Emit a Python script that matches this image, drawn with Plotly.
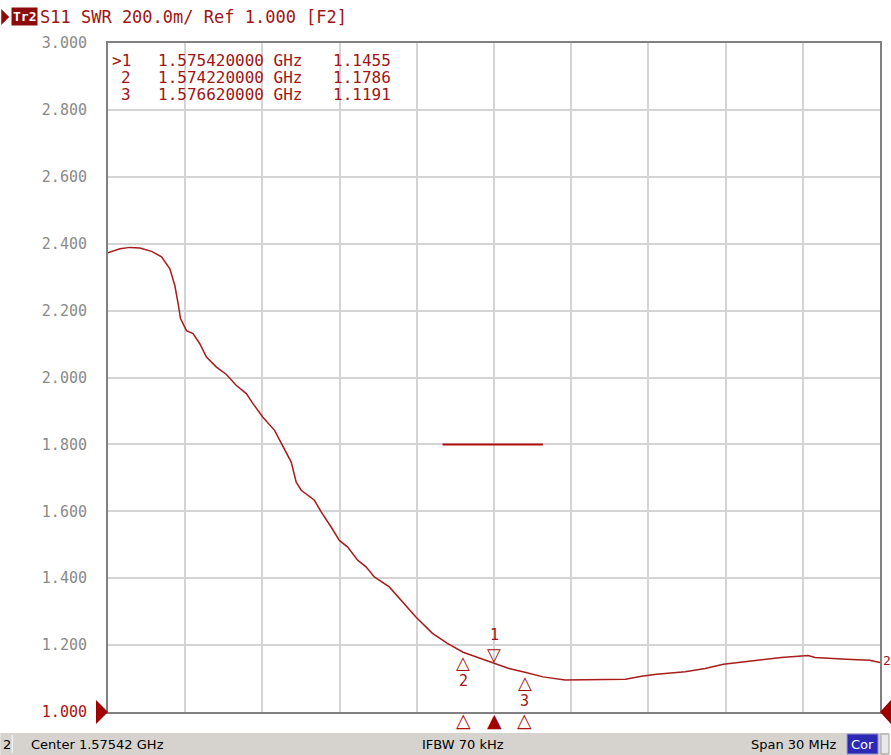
import plotly.graph_objects as go

# ---------------- data ----------------
freq_mhz = [1560.42, 1560.885, 1561.273, 1561.660, 1562.114, 1562.501, 1562.823, 1563.017,
            1563.145, 1563.238, 1563.470, 1563.726, 1563.986, 1564.246, 1564.633, 1565.021,
            1565.408, 1565.796, 1566.052, 1566.439, 1566.893, 1567.214, 1567.540, 1567.734,
            1567.928, 1568.443, 1568.703, 1569.090, 1569.412, 1569.734, 1570.121, 1570.447,
            1570.769, 1571.350, 1572.385, 1573.028, 1573.610, 1574.220, 1574.839, 1575.420,
            1576.001, 1576.620, 1577.329, 1578.178, 1579.470, 1580.525, 1581.157, 1581.738,
            1582.850, 1583.626, 1584.335, 1584.916, 1585.951, 1586.583, 1587.629, 1587.889,
            1589.113, 1590.020, 1590.42]
swr = [2.373, 2.385, 2.389, 2.387, 2.377, 2.361, 2.325, 2.275,
       2.221, 2.176, 2.140, 2.131, 2.101, 2.061, 2.031, 2.009,
       1.976, 1.952, 1.922, 1.881, 1.842, 1.797, 1.747, 1.687,
       1.663, 1.633, 1.598, 1.553, 1.513, 1.493, 1.454, 1.434,
       1.404, 1.374, 1.284, 1.235, 1.205, 1.1786, 1.162, 1.1455,
       1.130, 1.1191, 1.105, 1.096, 1.096, 1.098, 1.107, 1.113,
       1.120, 1.130, 1.143, 1.148, 1.157, 1.163, 1.169, 1.163,
       1.158, 1.155, 1.148]

marker_ids = ["1", "2", "3"]
marker_freq_ghz = [1.575420000, 1.574220000, 1.576620000]
marker_val = [1.1455, 1.1786, 1.1191]

limit_freq = [1573.42, 1577.32]
limit_val = [1.8, 1.8]

y_ticks = [1.0, 1.2, 1.4, 1.6, 1.8, 2.0, 2.2, 2.4, 2.6, 2.8, 3.0]
x_start, x_stop = 1560.42, 1590.42
header = "S11 SWR 200.0m/ Ref 1.000 [F2]"
status_left = "Center 1.57542 GHz"
status_mid = "IFBW 70 kHz"
status_right = "Span 30 MHz"

# ---------------- style ----------------
W, H = 891, 755
L, R, T, B = 108, 9, 43, 43
PW, PH = W - L - R, H - T - B
RED = "#a81c1c"
TXT = "#a01414"
GRID = "#d4d4d4"
FRAME = "#808080"
MONO = "DejaVu Sans Mono"


def px(x):
    return (x - L) / PW


def py(y):
    return (H - B - y) / PH


fig = go.Figure()

fig.add_trace(go.Scatter(x=freq_mhz, y=swr, mode="lines",
                         line=dict(color=RED, width=1.5), hoverinfo="skip"))
fig.add_trace(go.Scatter(x=limit_freq, y=limit_val, mode="lines",
                         line=dict(color="#b01010", width=2), hoverinfo="skip"))

mk_mhz = [f * 1000 for f in marker_freq_ghz]

annotations = []
# marker position triangles under the axis
for i in range(3):
    annotations.append(dict(x=mk_mhz[i], y=py(720), xref="x", yref="paper",
                            text="▲" if i == 0 else "△", showarrow=False,
                            xanchor="center", yanchor="middle",
                            font=dict(family="DejaVu Sans", size=19,
                                      color="#a00000" if i == 0 else "#b01010")))
# marker flags on trace
GLY = dict(family="DejaVu Sans", size=18, color=TXT)
NUM = dict(family=MONO, size=15, color=TXT)
annotations.append(dict(x=mk_mhz[0], y=marker_val[0], xref="x", yref="y", text="▽",
                        showarrow=False, yanchor="middle", xanchor="center",
                        font=GLY, yshift=9))
annotations.append(dict(x=mk_mhz[0], y=marker_val[0], xref="x", yref="y", text=marker_ids[0],
                        showarrow=False, yanchor="middle", xanchor="center",
                        font=NUM, yshift=28))
for i in (1, 2):
    annotations.append(dict(x=mk_mhz[i], y=marker_val[i], xref="x", yref="y", text="△",
                            showarrow=False, yanchor="middle", xanchor="center",
                            font=GLY, yshift=-10))
    annotations.append(dict(x=mk_mhz[i], y=marker_val[i], xref="x", yref="y",
                            text=marker_ids[i], showarrow=False, yanchor="middle",
                            xanchor="center", font=NUM, yshift=-29))

# marker table
for i, (mid, f, v) in enumerate(zip(marker_ids, marker_freq_ghz, marker_val)):
    yy = 60 + 17 * i
    lab = (">" if i == 0 else "") + mid
    annotations.append(dict(x=px(133), y=py(yy), xref="paper", yref="paper", text=lab,
                            showarrow=False, xanchor="right", yanchor="middle",
                            font=dict(family=MONO, size=16, color=TXT)))
    annotations.append(dict(x=px(156), y=py(yy), xref="paper", yref="paper",
                            text=f"{f:.9f} GHz", showarrow=False, xanchor="left", yanchor="middle",
                            font=dict(family=MONO, size=16, color=TXT)))
    annotations.append(dict(x=px(394), y=py(yy), xref="paper", yref="paper",
                            text=f"{v:.4f}", showarrow=False, xanchor="right", yanchor="middle",
                            font=dict(family=MONO, size=16, color=TXT)))

# header
annotations.append(dict(x=px(11), y=py(17), xref="paper", yref="paper", text="<b>Tr2</b>",
                        showarrow=False, xanchor="left", yanchor="middle", bgcolor="#8c0c0c",
                        borderpad=1, font=dict(family=MONO, size=13, color="white")))
annotations.append(dict(x=px(38), y=py(17), xref="paper", yref="paper", text=header,
                        showarrow=False, xanchor="left", yanchor="middle",
                        font=dict(family=MONO, size=17, color=TXT)))
# trace end label
annotations.append(dict(x=px(883), y=py(660), xref="paper", yref="paper", text="2",
                        showarrow=False, xanchor="left", yanchor="middle",
                        font=dict(family=MONO, size=13, color=TXT)))
# status bar texts
SB = dict(family="DejaVu Sans", size=13, color="black")
annotations.append(dict(x=px(1), y=py(744), xref="paper", yref="paper", text="2",
                        showarrow=False, xanchor="left", yanchor="middle", font=SB))
annotations.append(dict(x=px(29), y=py(744), xref="paper", yref="paper", text=status_left,
                        showarrow=False, xanchor="left", yanchor="middle", font=SB))
annotations.append(dict(x=px(464), y=py(744), xref="paper", yref="paper", text=status_mid,
                        showarrow=False, xanchor="center", yanchor="middle", font=SB))
annotations.append(dict(x=px(841), y=py(744), xref="paper", yref="paper", text=status_right,
                        showarrow=False, xanchor="right", yanchor="middle", font=SB))
annotations.append(dict(x=px(864), y=py(744), xref="paper", yref="paper", text="Cor",
                        showarrow=False, xanchor="center", yanchor="middle",
                        font=dict(family="DejaVu Sans", size=13, color="white")))

shapes = [
    # status bar
    dict(type="rect", xref="paper", yref="paper", x0=px(0), x1=px(W), y0=py(755), y1=py(733),
         fillcolor="#d6d3ce", line=dict(width=0), layer="below"),
    dict(type="line", xref="paper", yref="paper", x0=px(12), x1=px(12), y0=py(753), y1=py(735),
         line=dict(color="white", width=1)),
    dict(type="rect", xref="paper", yref="paper", x0=px(849), x1=px(880), y0=py(754), y1=py(734),
         fillcolor="#2a2ab4", line=dict(color="#9090d0", width=1)),
    dict(type="rect", xref="paper", yref="paper", x0=px(883), x1=px(891), y0=py(754), y1=py(734),
         fillcolor="#e8e8e8", line=dict(color="#a0a0a0", width=1)),
    # reference triangles
    dict(type="path", xref="paper", yref="paper",
         path=f"M {px(96)} {py(700)} L {px(108)} {py(712)} L {px(96)} {py(724)} Z",
         fillcolor="#a00000", line=dict(width=0)),
    dict(type="path", xref="paper", yref="paper",
         path=f"M {px(893)} {py(700)} L {px(882)} {py(712)} L {px(893)} {py(724)} Z",
         fillcolor="#a00000", line=dict(width=0)),
    # header triangle
    dict(type="path", xref="paper", yref="paper",
         path=f"M {px(1)} {py(9)} L {px(9)} {py(17)} L {px(1)} {py(25)} Z",
         fillcolor="#8c0c0c", line=dict(width=0)),
]

tick_text = ["<span style='color:#b01010'>%.3f</span>" % v if v == 1.0 else "%.3f" % v
             for v in y_ticks]

fig.update_layout(
    width=W, height=H,
    margin=dict(l=L, r=R, t=T, b=B, pad=0),
    paper_bgcolor="white", plot_bgcolor="white",
    showlegend=False,
    annotations=annotations,
    shapes=shapes,
    xaxis=dict(range=[x_start, x_stop], tick0=x_start, dtick=3, showticklabels=False,
               showgrid=True, gridcolor=GRID, gridwidth=2, zeroline=False,
               showline=True, linecolor=FRAME, linewidth=2, mirror=True, ticks=""),
    yaxis=dict(range=[1.0, 3.0], tickvals=y_ticks, ticktext=tick_text,
               showgrid=True, gridcolor=GRID, gridwidth=2, zeroline=False,
               showline=True, linecolor=FRAME, linewidth=2, mirror=True, ticks="",
               ticklabelstandoff=16,
               tickfont=dict(family=MONO, size=15, color="#8a8a8a")),
)

fig.write_html("out.html", config={"displayModeBar": False},
               post_script="document.body.style.margin='0px';document.body.style.overflow='hidden';")
